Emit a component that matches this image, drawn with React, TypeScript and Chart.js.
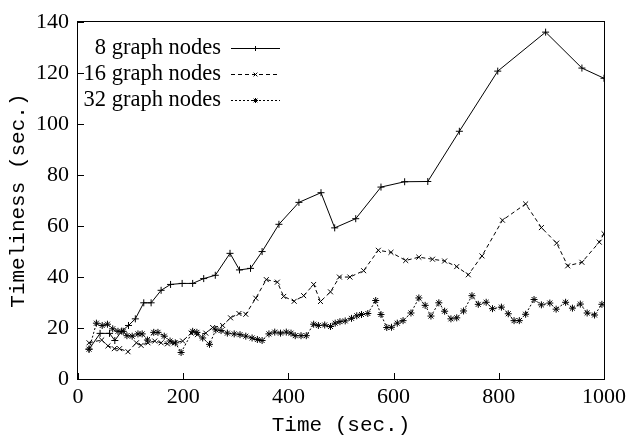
import React, { useEffect, useRef } from "react";
import { Chart, registerables } from "chart.js";

Chart.register(...registerables);

const seriesLabels = ["8 graph nodes", "16 graph nodes", "32 graph nodes"];

const x8 = [21, 42, 60, 70, 83, 96, 109, 125, 139, 158, 176, 198, 218, 239, 261, 289, 307, 328, 350, 382, 420, 462, 488, 528, 576, 621, 665, 725, 798, 889, 958, 1000];
const y8 = [11.7, 17.9, 17.9, 15.1, 18.8, 21, 23.6, 29.9, 29.9, 34.8, 37.1, 37.5, 37.5, 39.4, 40.7, 49.3, 42.8, 43.4, 50, 60.7, 69.3, 73.1, 59.3, 62.9, 75.3, 77.4, 77.5, 97.2, 120.8, 136.1, 122, 118];

const x16 = [21, 45, 57, 69, 79, 95, 111, 120, 133, 146, 158, 170, 183, 199, 215, 227, 243, 256, 275, 290, 306, 319, 338, 358, 379, 391, 411, 429, 448, 461, 480, 497, 517, 543, 571, 595, 623, 648, 674, 697, 720, 742, 768, 807, 851, 881, 910, 931, 958, 991, 1000];
const y16 = [14.2, 15.3, 13, 11.9, 11.9, 10.7, 14.2, 13.2, 14.2, 14.9, 14.2, 13.8, 14.2, 14.9, 18, 17.4, 18, 20.2, 21, 24, 25.7, 25.4, 31.7, 39, 38, 32.4, 30.5, 32.7, 37.1, 30.4, 34.2, 40, 40, 42.5, 50.5, 49.7, 46.5, 47.8, 47, 46.3, 44.1, 40.9, 48.3, 62.3, 68.7, 59.4, 53.3, 44.4, 45.8, 53.7, 57];

const x32 = [21, 35, 46, 56, 66, 76, 86, 93, 103, 114, 122, 132, 144, 152, 164, 175, 185, 196, 218, 226, 237, 250, 262, 272, 284, 297, 308, 319, 331, 341, 350, 363, 374, 385, 396, 405, 413, 424, 434, 448, 457, 469, 480, 489, 498, 508, 520, 530, 539, 551, 566, 576, 587, 596, 607, 618, 633, 648, 660, 671, 686, 697, 709, 720, 733, 749, 761, 776, 788, 805, 818, 829, 839, 851, 867, 881, 897, 909, 927, 940, 955, 968, 982, 996];
const y32 = [11.7, 21.9, 21, 21.5, 19.7, 18.7, 18.7, 17, 16.8, 17.7, 17.7, 15.3, 18.3, 18.3, 16.8, 14.9, 14.2, 10.4, 18.7, 18.3, 16.1, 13.6, 19.3, 19, 18, 17.7, 17.4, 16.8, 16.1, 15.5, 15.1, 17.7, 18.4, 18, 18.4, 18, 17, 17, 17, 21.5, 21, 21.2, 20.6, 21.9, 22.5, 22.8, 23.8, 24.8, 25.3, 25.7, 30.8, 25.3, 20.2, 20.3, 21.9, 22.9, 25.9, 31.8, 28.9, 24.7, 29.9, 26.6, 23.6, 24, 26.7, 32.7, 29.3, 30.1, 27.6, 28.2, 25.6, 22.9, 22.9, 25.4, 31.2, 29.1, 29.8, 27.4, 30.1, 27.8, 29.4, 25.9, 25.1, 29.3];

const xTicks = [0, 200, 400, 600, 800, 1000];
const yTicks = [0, 20, 40, 60, 80, 100, 120, 140];

const pts = (xs: number[], ys: number[]) => xs.map((x, i) => ({ x, y: ys[i] }));

const SERIF = '"Liberation Serif", "Times New Roman", serif';
const MONO = '"Liberation Mono", "DejaVu Sans Mono", monospace';

function drawMarker(ctx: CanvasRenderingContext2D, style: string, x: number, y: number, r: number) {
  ctx.beginPath();
  if (style === "cross" || style === "star") {
    ctx.moveTo(x - r, y); ctx.lineTo(x + r, y);
    ctx.moveTo(x, y - r); ctx.lineTo(x, y + r);
  }
  if (style === "crossRot" || style === "star") {
    const d = r * 0.75;
    ctx.moveTo(x - d, y - d); ctx.lineTo(x + d, y + d);
    ctx.moveTo(x - d, y + d); ctx.lineTo(x + d, y - d);
  }
  ctx.stroke();
}

const framePlugin = {
  id: "frame",
  afterDraw(chart: any) {
    const { ctx, chartArea } = chart;
    const { left, right, top, bottom } = chartArea;
    const xs = chart.scales.x;
    const ys = chart.scales.y;
    ctx.save();
    ctx.strokeStyle = "#000";
    ctx.lineWidth = 1;
    ctx.setLineDash([]);
    ctx.strokeRect(Math.round(left) - 0.5, Math.round(top) - 0.5, Math.round(right - left) + 1, Math.round(bottom - top) + 1);
    ctx.beginPath();
    xTicks.forEach((v) => {
      const px = Math.round(xs.getPixelForValue(v)) + 0.5;
      ctx.moveTo(px, bottom);
      ctx.lineTo(px, bottom - 6);
    });
    yTicks.forEach((v) => {
      const py = Math.round(ys.getPixelForValue(v)) + 0.5;
      ctx.moveTo(left, py);
      ctx.lineTo(left + 6, py);
    });
    ctx.stroke();

    // legend
    chart.data.datasets.forEach((ds: any, i: number) => {
      const yy = 48 + 26 * i;
      ctx.fillStyle = "#000";
      ctx.font = `22.5px ${SERIF}`;
      ctx.textAlign = "right";
      ctx.textBaseline = "middle";
      ctx.fillText(ds.label, 221, yy);
      ctx.setLineDash(ds.borderDash || []);
      ctx.beginPath();
      ctx.moveTo(231, Math.round(yy) + 0.5);
      ctx.lineTo(280, Math.round(yy) + 0.5);
      ctx.stroke();
      ctx.setLineDash([]);
      drawMarker(ctx, ds.pointStyle, 255.5, Math.round(yy) + 0.5, 2.5);
    });
    ctx.restore();
  },
};

export default function App() {
  const ref = useRef<HTMLCanvasElement | null>(null);
  useEffect(() => {
    document.body.style.margin = "0";
    const canvas = ref.current!;
    const mk = (label: string, data: any, dash: number[], style: string) => ({
      label,
      data,
      borderColor: "#000",
      backgroundColor: "#000",
      borderWidth: 1,
      borderDash: dash,
      pointStyle: style,
      pointRadius: 3.5,
      pointBorderWidth: 1,
      pointBorderColor: "#000",
      pointBackgroundColor: "#000",
      tension: 0,
      fill: false,
    });
    const chart = new Chart(canvas, {
      type: "line",
      data: {
        datasets: [
          mk(seriesLabels[0], pts(x8, y8), [], "cross"),
          mk(seriesLabels[1], pts(x16, y16), [4, 3], "crossRot"),
          mk(seriesLabels[2], pts(x32, y32), [2, 2], "star"),
        ],
      },
      options: {
        animation: false,
        responsive: false,
        devicePixelRatio: 1,
        layout: { padding: { top: 12, right: 24, left: 0, bottom: 0 } },
        plugins: { legend: { display: false }, tooltip: { enabled: false } },
        scales: {
          x: {
            type: "linear",
            min: 0,
            max: 1000,
            afterBuildTicks: (s: any) => { s.ticks = xTicks.map((v) => ({ value: v })); },
            afterFit: (s: any) => { s.height = 59; },
            grid: { display: false, drawTicks: false },
            border: { display: false },
            ticks: { color: "#000", font: { family: SERIF, size: 22 }, padding: 5, maxRotation: 0, callback: (v: any) => String(v) },
            title: { display: true, text: "Time (sec.)", color: "#000", font: { family: MONO, size: 21 }, padding: { top: 0, bottom: 0 } },
          },
          y: {
            type: "linear",
            min: 0,
            max: 140,
            afterBuildTicks: (s: any) => { s.ticks = yTicks.map((v) => ({ value: v })); },
            afterFit: (s: any) => { s.width = 78; },
            grid: { display: false, drawTicks: false },
            border: { display: false },
            ticks: { color: "#000", font: { family: SERIF, size: 22 }, padding: 9, callback: (v: any) => String(v) },
            title: { display: true, text: "Timeliness (sec.)", color: "#000", font: { family: MONO, size: 21 }, padding: { top: 6, bottom: 0 } },
          },
        },
      },
      plugins: [framePlugin],
    } as any);
    return () => chart.destroy();
  }, []);
  return (
    <div style={{ width: 631, height: 438 }}>
      <canvas ref={ref} width={631} height={438} style={{ width: 631, height: 438, display: "block" }} />
    </div>
  );
}
